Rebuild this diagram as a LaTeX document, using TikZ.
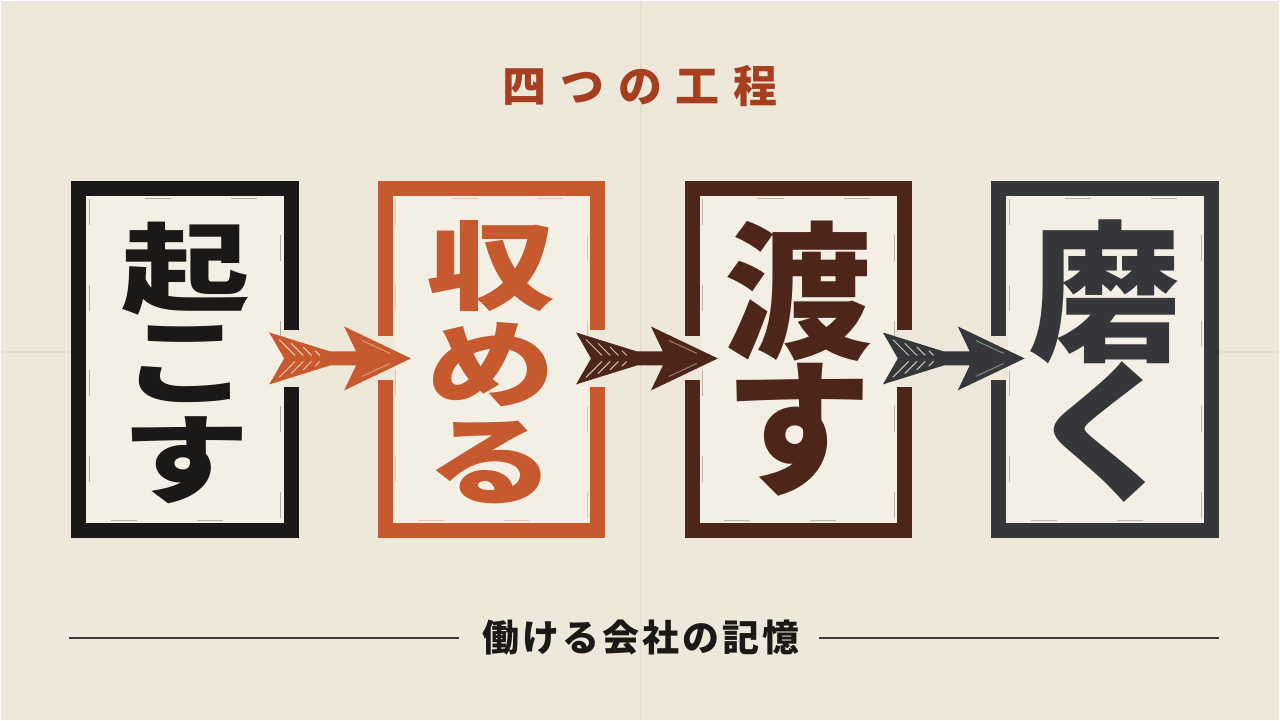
\documentclass[tikz,border=0pt]{standalone}
\usepackage{fontspec}
\setmainfont{Noto Sans CJK JP}
\usetikzlibrary{calc}

\definecolor{paper}{HTML}{EEE8DA}
\definecolor{card}{HTML}{F3EFE5}
\definecolor{inkblack}{HTML}{1B1917}
\definecolor{rust}{HTML}{C65A2E}
\definecolor{umber}{HTML}{4E2619}
\definecolor{slate}{HTML}{35373A}
\definecolor{heading}{HTML}{A63F1F}

\tikzset{
  stampbox/.style={draw=#1, line width=15pt, fill=card, minimum width=213pt, minimum height=343pt, inner sep=0pt},
  bigchar/.style={text=#1, inner sep=0pt},
  quill/.style={draw=paper, line width=1pt, opacity=.8},
  rule/.style={draw=inkblack!85, line width=1.3pt}
}
\newcommand{\wide}[1]{\scalebox{1.33}[1]{#1}}

\begin{document}
\begin{tikzpicture}[x=1pt,y=-1pt]
	% paper and creases
	\fill[paper] (0,0) rectangle (1280,720);
	\draw[black, opacity=.04, line width=2pt] (641,0) -- (641,720);
	\draw[black, opacity=.035, line width=2pt] (0,352) -- (1280,352);

	\node[text=heading, font=\bfseries\fontsize{44}{44}\selectfont, inner sep=0pt] (title) at (640,85)
		{四\hspace{14pt}つ\hspace{14pt}の\hspace{14pt}工\hspace{14pt}程};

	% the four stamps
	\foreach \i/\col in {1/inkblack,2/rust,3/umber,4/slate}{
		\node[stampbox=\col] (box\i) at ({184+307.3*(\i-1)},359) {};
		\draw[\col, opacity=.3, line width=.7pt, dash pattern=on 26pt off 60pt]
			($(box\i.north west)+(18,18)$) rectangle ($(box\i.south east)+(-18,-18)$);
		}

	% characters
	\foreach \ch [count=\k] in {起,こ,す}
		\node[bigchar=inkblack, font=\bfseries\fontsize{97}{97}\selectfont] (okosu\k) at (185,{268+96*(\k-1)}) {\wide{\ch}};
	\foreach \ch [count=\k] in {収,め,る}
		\node[bigchar=rust, font=\bfseries\fontsize{97}{97}\selectfont] (osameru\k) at (491,{266+98*(\k-1)}) {\wide{\ch}};
	\foreach \ch [count=\k] in {渡,す}
		\node[bigchar=umber, font=\bfseries\fontsize{148}{148}\selectfont] (watasu\k) at (799,{291+138*(\k-1)}) {\ch};
	\foreach \ch [count=\k] in {磨,く}
		\node[bigchar=slate, font=\bfseries\fontsize{152}{152}\selectfont] (migaku\k) at (1106,{291+141*(\k-1)}) {\ch};

	% fletched arrows between stamps
	\foreach \a/\b/\col in {box1/box2/rust, box2/box3/umber, box3/box4/slate}{
		\fill[paper] ($(\a.east)+(-17,-29)$) rectangle ($(\a.east)+(1,28)$);
		\fill[paper] ($(\b.west)+(-1,-23)$) rectangle ($(\b.west)+(17,21)$);
		\coordinate (mid) at ($(\a.east)!.5!(\b.west)+(2,-1)$);
		\begin{scope}[shift={(mid)}]
			\fill[\col] (-71,-26) -- (-10,-7) -- (16,-7) -- (4,-32) -- (71,0) -- (4,32)
				-- (16,7) -- (-10,7) -- (-71,26) -- (-56,0) -- cycle;
			\foreach \s in {-61,-49,-37,-25}{
				\pgfmathsetmacro\h{-26+(\s+71)*0.311+4}
				\draw[quill] (\s,\h) -- ({\s-\h-3},-3);
				\draw[quill] (\s,{-1*\h}) -- ({\s-\h-3},3);
				}
			\draw[quill, opacity=.45] (22,-18) -- (50,-5);
			\draw[quill, opacity=.45] (22,18) -- (50,5);
		\end{scope}
		}

	% footer
	\node[text=inkblack, font=\bfseries\fontsize{37}{37}\selectfont, inner sep=0pt] (footer) at (641,638)
		{働\hspace{3pt}け\hspace{3pt}る\hspace{3pt}会\hspace{3pt}社\hspace{3pt}の\hspace{3pt}記\hspace{3pt}憶};
	\coordinate (ruleL) at (68,638);
	\coordinate (ruleR) at (1220,638);
	\draw[rule] (ruleL) -- ($(footer.west)+(-24,0)$);
	\draw[rule] ($(footer.east)+(20,0)$) -- (ruleR);
\end{tikzpicture}
\end{document}
